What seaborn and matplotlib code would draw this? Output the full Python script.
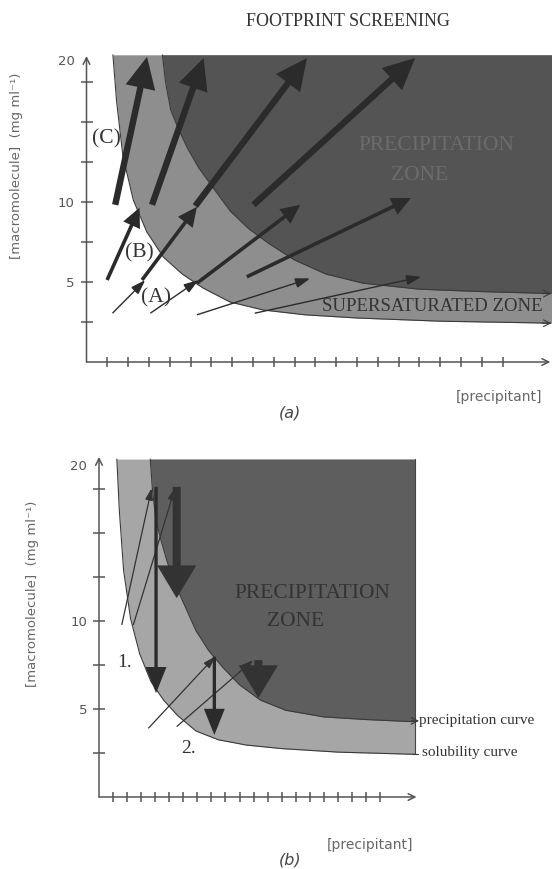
import numpy as np
import seaborn as sns
import matplotlib.pyplot as plt

# boundary curves (x in [precipitant] tick units, y in [macromolecule] tick units)
sol_x = [1.27, 1.45, 1.75, 2.25, 2.9, 3.7, 4.6, 5.6, 6.9, 8.5, 10.5, 13.0, 17.0, 22.5]
sol_y = [7.68, 6.5, 5.15, 4.05, 3.25, 2.62, 2.2, 1.85, 1.5, 1.3, 1.18, 1.1, 1.02, 0.97]
pre_x = [3.65, 3.8, 4.05, 4.4, 4.85, 5.4, 6.1, 6.9, 7.8, 8.8, 10.0, 11.5, 13.3, 16.0, 19.0, 22.5]
pre_y = [7.68, 7.0, 6.3, 5.85, 5.35, 4.85, 4.35, 3.78, 3.33, 2.95, 2.55, 2.2, 1.97, 1.82, 1.76, 1.71]
top_y = 7.68

# panel (a) arrows: tail x, tail y, tip x, tip y
a_thin = [(1.25, 1.22, 2.83, 2.05), (3.07, 1.22, 5.39, 2.05),
          (5.31, 1.18, 10.76, 2.09), (8.09, 1.22, 16.1, 2.13)]
a_mid = [(0.99, 2.05, 2.55, 3.86), (2.67, 2.05, 5.31, 3.88),
         (5.31, 1.97, 10.28, 3.93), (7.71, 2.13, 15.6, 4.1)]
a_thick = [(1.38, 3.93, 2.91, 7.63), (3.15, 3.93, 5.63, 7.6),
           (5.23, 3.9, 10.6, 7.6), (8.03, 3.93, 15.8, 7.6)]

# panel (b) arrows
b_thin = [(1.62, 3.91, 3.75, 7.02), (2.44, 3.91, 5.41, 7.02),
          (3.51, 1.56, 8.26, 3.19), (5.53, 1.60, 10.98, 3.11)]
b_mid = [(4.06, 7.05, 4.06, 2.36), (8.21, 3.19, 8.21, 1.41)]
b_heavy = [(5.53, 7.05, 5.53, 4.52), (11.34, 3.11, 11.34, 2.25)]

x_ticks = list(range(1, 21))
y_ticks = [1, 2, 3, 4, 5, 6, 7, 7.55]
y_labels = ['', '5', '', '10', '', '', '', '20']

sns.set_theme(style='white')
plt.rcParams['font.family'] = ['DejaVu Sans']
SERIF = ['Liberation Serif', 'DejaVu Serif']
AXC = '#555555'

W, H = 553, 869
fig = plt.figure(figsize=(W / 100, H / 100), dpi=100)


def px_axes(x0, y0, ux, uy, xmax, ymax):
    # x0,y0 = pixel of data origin, ux/uy = pixels per data unit
    return fig.add_axes([x0 / W, (H - y0) / H, xmax * ux / W, ymax * uy / H])


def arrow(ax, seg, lw, ms, hl, hw, color='#2b2b2b'):
    ax.annotate('', xy=(seg[2], seg[3]), xytext=(seg[0], seg[1]),
                arrowprops=dict(arrowstyle=f'-|>,head_length={hl},head_width={hw}',
                                lw=lw, color=color, mutation_scale=ms,
                                shrinkA=0, shrinkB=0, joinstyle='miter', capstyle='butt'),
                annotation_clip=False)


def base(ax, xmax, yarrow, xarrow, light, dark, right):
    sx = np.linspace(sol_x[0], right, 300)
    px = np.linspace(pre_x[0], right, 300)
    ax.fill_between(sx, np.interp(sx, sol_x, sol_y), top_y, color=light, lw=0)
    ax.fill_between(px, np.interp(px, pre_x, pre_y), top_y, color=dark, lw=0)
    sns.lineplot(x=sol_x, y=sol_y, ax=ax, color='#3a3a3a', lw=0.8, sort=False, estimator=None)
    sns.lineplot(x=pre_x, y=pre_y, ax=ax, color='#3a3a3a', lw=0.8, sort=False, estimator=None)
    ax.set_xlim(0, xmax)
    ax.set_ylim(0, 7.8)
    for s in ax.spines.values():
        s.set_visible(False)
    ax.annotate('', xy=(xarrow, 0), xytext=(0, 0),
                arrowprops=dict(arrowstyle='->', lw=1.1, color=AXC, shrinkA=0, shrinkB=0),
                annotation_clip=False)
    ax.annotate('', xy=(0, yarrow), xytext=(0, 0),
                arrowprops=dict(arrowstyle='->', lw=1.1, color=AXC, shrinkA=0, shrinkB=0),
                annotation_clip=False)
    ax.set_xticks(x_ticks)
    ax.set_xticklabels([])
    ax.set_yticks(y_ticks)
    ax.set_yticklabels(y_labels, fontsize=9.5, color=AXC)
    ax.tick_params(axis='both', direction='inout', color=AXC, width=1.1,
                   bottom=True, left=True, pad=4)
    ax.tick_params(axis='y', length=9)
    ax.tick_params(axis='x', length=7)
    ax.yaxis.get_major_ticks()[-1].tick1line.set_visible(False)
    ax.set_xlabel('')
    ax.set_ylabel('')
    ax.patch.set_alpha(0)


# ---------- panel (a) ----------
axa = px_axes(86.5, 362, 20.8, 40, 22.35, 7.8)
base(axa, 22.35, 7.65, 22.3, '#8e8e8e', '#545454', 22.5)
for seg in a_thin:
    arrow(axa, seg, 1.0, 10, 0.9, 0.3)
for seg in a_mid:
    arrow(axa, seg, 2.6, 12, 0.8, 0.38)
for seg in a_thick:
    arrow(axa, seg, 4.6, 20, 0.75, 0.36)
for yy in (1.71, 0.97):
    axa.annotate('', xy=(22.35, yy), xytext=(21.9, yy),
                 arrowprops=dict(arrowstyle='->', lw=0.8, color='#3a3a3a', shrinkA=0, shrinkB=0),
                 annotation_clip=False)
axa.text(0.95, 5.58, '(C)', family=SERIF, fontsize=15.5, color='#333333', ha='center', va='center')
axa.text(2.54, 2.72, '(B)', family=SERIF, fontsize=15.5, color='#333333', ha='center', va='center')
axa.text(3.36, 1.6, '(A)', family=SERIF, fontsize=15.5, color='#333333', ha='center', va='center')
axa.text(16.8, 5.4, 'PRECIPITATION', family=SERIF, fontsize=15.5, color='#6c6c6c', ha='center', va='center')
axa.text(16.0, 4.66, 'ZONE', family=SERIF, fontsize=15.5, color='#6c6c6c', ha='center', va='center')
axa.text(21.95, 1.38, 'SUPERSATURATED ZONE', family=SERIF, fontsize=13.5, color='#333333',
         ha='right', va='center')

# ---------- panel (b) ----------
axb = px_axes(99, 797, 14.05, 44, 22.6, 7.8)
base(axb, 22.6, 7.73, 22.6, '#a6a6a6', '#5e5e5e', 22.5)
axb.plot([22.5, 22.5], [0.97, top_y], color='#444444', lw=0.8)
for seg in b_thin:
    arrow(axb, seg, 0.9, 8, 0.9, 0.3, color='#333333')
for seg in b_mid:
    arrow(axb, seg, 2.4, 16, 0.9, 0.36)
for seg in b_heavy:
    arrow(axb, seg, 5.8, 20, 0.75, 0.45, color='#333333')
axb.annotate('', xy=(22.78, 1.73), xytext=(22.2, 1.73),
             arrowprops=dict(arrowstyle='->', lw=0.8, color='#3a3a3a', shrinkA=0, shrinkB=0),
             annotation_clip=False)
axb.plot([22.3, 22.7], [0.97, 0.97], color='#3a3a3a', lw=0.8, clip_on=False)
axb.text(1.85, 3.05, '1.', family=SERIF, fontsize=14, color='#333333', ha='center', va='center')
axb.text(6.34, 1.11, '2.', family=SERIF, fontsize=14, color='#333333', ha='center', va='center')
axb.text(15.2, 4.63, 'PRECIPITATION', family=SERIF, fontsize=15.5, color='#333333', ha='center', va='center')
axb.text(14.0, 4.0, 'ZONE', family=SERIF, fontsize=15.5, color='#333333', ha='center', va='center')
axb.text(22.8, 1.73, 'precipitation curve', family=SERIF, fontsize=11, color='#333333', ha='left', va='center')
axb.text(23.0, 1.02, 'solubility curve', family=SERIF, fontsize=11, color='#333333', ha='left', va='center')

# ---------- figure texts ----------
fig.text(348 / W, 1 - 22 / H, 'FOOTPRINT SCREENING', family=SERIF, fontsize=13, color='#333333',
         ha='center', va='center')
ylab = '[macromolecule]  (mg ml\u207b\u00b9)'
fig.text(17 / W, 1 - 166 / H, ylab, rotation=90, fontsize=9.5, color='#666666', ha='center', va='center')
fig.text(33 / W, 1 - 594 / H, ylab, rotation=90, fontsize=9.5, color='#666666', ha='center', va='center')
fig.text(542 / W, 1 - 397 / H, '[precipitant]', fontsize=10, color='#666666', ha='right', va='center')
fig.text(413 / W, 1 - 845 / H, '[precipitant]', fontsize=10, color='#666666', ha='right', va='center')
fig.text(290 / W, 1 - 413 / H, '(a)', fontsize=11.5, style='italic', color='#444444', ha='center', va='center')
fig.text(290 / W, 1 - 860 / H, '(b)', fontsize=11.5, style='italic', color='#444444', ha='center', va='center')

fig.savefig('out.png', dpi=100, facecolor='white')
